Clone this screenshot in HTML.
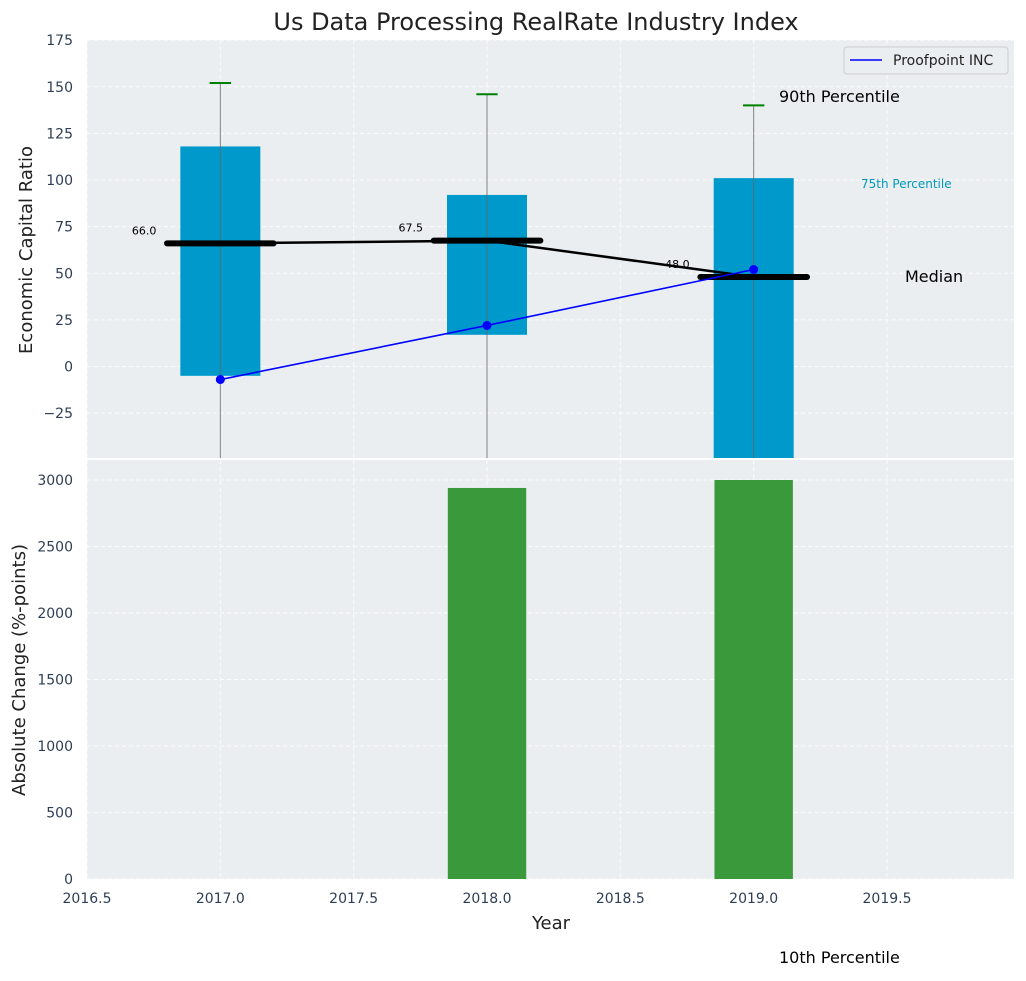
<!DOCTYPE html>
<html><head><meta charset="utf-8"><style>
body{margin:0;background:#fff;font-family:"Liberation Sans","DejaVu Sans",sans-serif;}
svg text{font-family:"DejaVu Sans","Liberation Sans",sans-serif;}
</style></head><body>
<svg id="c" width="1026" height="976" xmlns="http://www.w3.org/2000/svg"></svg>
<script>
const years=[2017,2018,2019];
const boxLow=[-5,17,-60];
const boxHigh=[118,92,101];
const whiskerTop=[152,146,140];
const medians=[66.0,67.5,48.0];
const proofpoint=[-7,22,52];
const changeYears=[2018,2019];
const changeVals=[2940,3000];
const topTicks=[-25,0,25,50,75,100,125,150,175];
const botTicks=[0,500,1000,1500,2000,2500,3000];
const xTicks=[2016.5,2017,2017.5,2018,2018.5,2019,2019.5];

const NS='http://www.w3.org/2000/svg';
const svg=document.getElementById('c');
function el(t,a,p){const e=document.createElementNS(NS,t);for(const k in a)e.setAttribute(k,a[k]);(p||svg).appendChild(e);return e;}
const L=87,R=1014;
const X=v=>L+(v-2016.5)*266.67;
const T0=40,T1=458;
const YT=v=>366.5-v*1.865;
const B0=460,B1=879;
const YB=v=>B1-v*0.133;

let r=el('rect',{x:L,y:T0,width:R-L,height:T1-T0,fill:'#eaeef0'});

r=el('rect',{x:L,y:B0,width:R-L,height:B1-B0,fill:'#eaeef0'});


const g=el('g',{stroke:'#fff','stroke-dasharray':'4,3','stroke-width':1,opacity:0.8});

topTicks.forEach(v=>{if(YT(v)>=T0&&YT(v)<=T1)el('line',{x1:L,x2:R,y1:YT(v),y2:YT(v)},g)});
botTicks.forEach(v=>el('line',{x1:L,x2:R,y1:YB(v),y2:YB(v)},g));
xTicks.forEach(v=>{el('line',{x1:X(v),x2:X(v),y1:T0,y2:T1},g);el('line',{x1:X(v),x2:X(v),y1:B0,y2:B1},g)});

topTicks.forEach(v=>{const t=el('text',{x:73,y:YT(v)+5,'text-anchor':'end','font-size':14,fill:'#2e3f55'});t.textContent=v<0?'\u2212'+Math.abs(v):v;
});
botTicks.forEach(v=>{const t=el('text',{x:73,y:YB(v)+5,'text-anchor':'end','font-size':14,fill:'#2e3f55'});t.textContent=v;
});
xTicks.forEach(v=>{const t=el('text',{x:X(v),y:903,'text-anchor':'middle','font-size':14,fill:'#2e3f55'});t.textContent=v.toFixed(1);
});

years.forEach((y,i)=>{
 const top=YT(boxHigh[i]);
 const b=el('rect',{x:X(y-0.15),y:top,width:X(y+0.15)-X(y-0.15),height:Math.min(YT(boxLow[i]),T1)-top,fill:'#0099cc'});
 
 const w=el('line',{x1:X(y),x2:X(y),y1:YT(whiskerTop[i]),y2:T1,stroke:'#666','stroke-width':1,opacity:0.8});
 
 const c=el('line',{x1:X(y-0.04),x2:X(y+0.04),y1:YT(whiskerTop[i]),y2:YT(whiskerTop[i]),stroke:'green','stroke-width':2});
 
});
let pts=years.map((y,i)=>X(y)+','+YT(medians[i])).join(' ');
let pl=el('polyline',{points:pts,fill:'none',stroke:'#000','stroke-width':2.5});

years.forEach((y,i)=>{
 const m=el('line',{x1:X(y-0.2),x2:X(y+0.2),y1:YT(medians[i]),y2:YT(medians[i]),stroke:'#000','stroke-width':6,'stroke-linecap':'round'});
 
 const t=el('text',{x:X(y-0.24),y:YT(medians[i])-9,'text-anchor':'end','font-size':11,fill:'#000'});t.textContent=medians[i].toFixed(1);
 
});
pts=years.map((y,i)=>X(y)+','+YT(proofpoint[i])).join(' ');
pl=el('polyline',{points:pts,fill:'none',stroke:'blue','stroke-width':1.6});

years.forEach((y,i)=>{const c=el('circle',{cx:X(y),cy:YT(proofpoint[i]),r:4.5,fill:'blue'});
 });

changeYears.forEach((y,i)=>{const b=el('rect',{x:X(y-0.147),y:YB(changeVals[i]),width:X(y+0.147)-X(y-0.147),height:B1-YB(changeVals[i]),fill:'#3a993a'});
 });

function tx(x,y,s,size,fill,name,anchor,rot){const t=el('text',{x:x,y:y,'font-size':size,fill:fill,'text-anchor':anchor||'start'});if(rot)t.setAttribute('transform','rotate(-90 '+x+' '+y+')');t.textContent=s;
 return t;}
tx(536,30,'Us Data Processing RealRate Industry Index',24,'#222','chart-title','middle');
tx(32,250,'Economic Capital Ratio',18,'#222','top-y-axis-title','middle',true);
tx(25,670,'Absolute Change (%-points)',18,'#222','bottom-y-axis-title','middle',true);
tx(551,929,'Year',18,'#222','x-axis-title','middle');
tx(779,102,'90th Percentile',16,'#000','p90-label');
tx(861,188,'75th Percentile',12,'#0099bb','p75-label');
tx(905,282,'Median',16,'#000','median-annotation');
tx(779,963,'10th Percentile',16,'#000','p10-label');

const lg=el('g',{});
el('rect',{x:844,y:47,width:164,height:27,rx:3,fill:'#eaeef0',stroke:'#ccc'},lg);
el('line',{x1:850,x2:882,y1:60,y2:60,stroke:'blue','stroke-width':1.6},lg);
const lt=el('text',{x:893,y:65,'font-size':14,fill:'#222'},lg);lt.textContent='Proofpoint INC';

</script>
</body></html>
